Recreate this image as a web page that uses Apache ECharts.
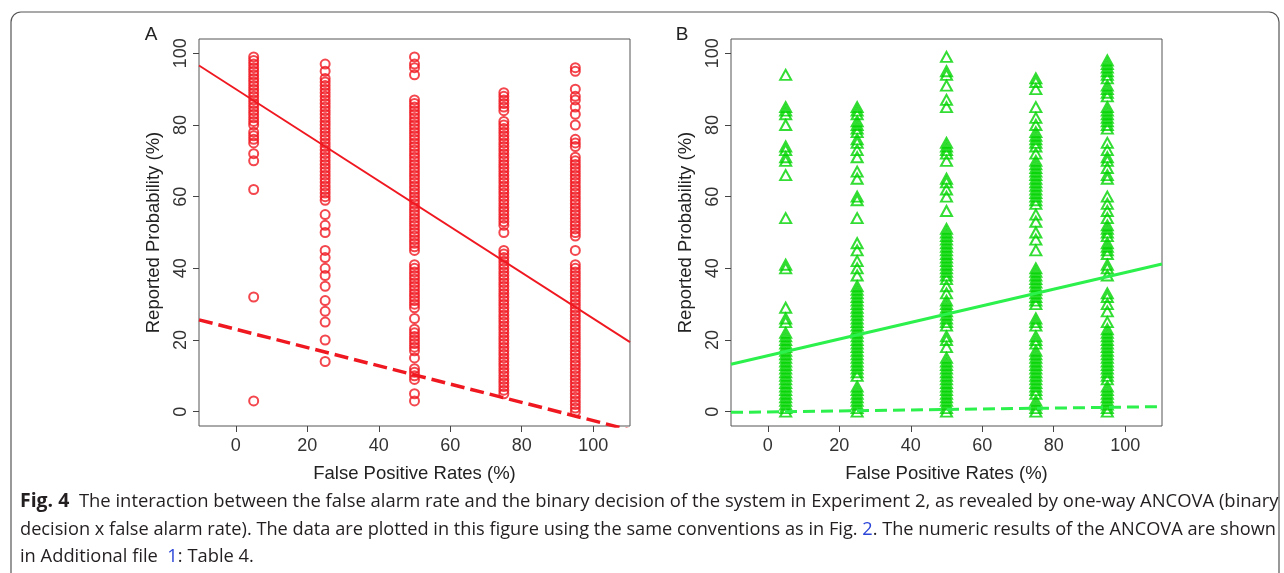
<!DOCTYPE html>
<html><head><meta charset="utf-8">
<script src="https://cdn.jsdelivr.net/npm/echarts@6/dist/echarts.min.js"></script>
<style>html,body{margin:0;padding:0;background:#fff}#c{width:1284px;height:573px}</style>
</head><body><div id="c"></div>
<script>
// ---------- data ----------
const rates = [5, 25, 50, 75, 95];
const xTicks = [0, 20, 40, 60, 80, 100];
const yTicks = [0, 20, 40, 60, 80, 100];

// Panel A (red circles)
const a5  = [99,98,97,96,95,94,93,92,91,90,89,88,87,86,85,84,83,82,81,80,78,77,76,75,72,70,62,32,3];
const a25 = [97,95,93,92,91,90,89,88,87,86,85,84,83,82,81,80,79,78,77,76,75,74,73,72,71,70,69,68,67,66,65,64,63,62,61,60,59,55,52,50,45,43,40,38,35,31,28,25,20,14];
const a50 = [99,97,96,94,87,86,85,84,83,82,81,80,79,78,77,76,75,74,73,72,71,70,69,68,67,66,65,64,63,62,61,60,59,58,57,56,55,54,53,52,51,50,49,48,47,46,45,41,40,39,38,37,36,35,34,33,32,31,30,29,26,23,22,21,20,19,18,17,15,12,11,10,9,5,3];
const a75 = [89,88,87,86,85,84,81,80,79,78,77,76,75,74,73,72,71,70,69,68,67,66,65,64,63,62,61,60,59,58,57,56,55,54,53,52,50,45,44,43,42,41,40,39,38,37,36,35,34,33,32,31,30,29,28,27,26,25,24,23,22,21,20,19,18,17,16,15,14,13,12,11,10,9,8,7,6,5];
const a95 = [96,95,90,88,87,85,83,80,76,75,74,71,70,69,68,67,66,65,64,63,62,61,60,59,58,57,56,55,54,53,52,51,50,49,45,41,40,39,38,37,36,35,34,33,32,31,30,29,28,27,26,25,24,23,22,21,20,19,18,17,16,15,14,13,12,11,10,9,8,7,6,5,4,3,2,1,0];

// Panel B (green triangles)
const b5  = [94,85,84,83,80,74,73,71,70,66,54,41,40,29,26,25,22,21,20,19,18,17,16,15,14,13,12,11,10,9,8,7,6,5,4,3,2,1,0];
const b25 = [85,84,83,81,80,79,78,76,75,73,71,67,65,60,59,54,47,45,42,40,38,35,34,33,32,31,30,29,28,27,26,25,24,23,22,21,20,19,18,17,16,15,14,13,12,11,10,7,6,5,4,3,2,1,0];
const b50 = [99,95,94,91,87,85,75,74,73,72,70,65,64,62,60,56,51,50,49,48,47,46,45,44,43,42,41,40,39,38,37,35,33,31,30,29,28,27,26,25,24,21,20,18,15,14,13,12,11,10,9,8,7,6,5,4,3,2,1,0];
const b75 = [93,92,90,85,82,80,78,77,76,75,74,72,70,69,68,67,66,65,64,63,62,61,60,59,58,55,53,50,48,45,40,39,38,37,36,35,34,33,32,31,30,26,25,24,21,20,19,17,16,15,14,13,12,11,10,9,8,7,6,5,3,2,1,0];
const b95 = [98,97,96,95,94,93,91,90,89,88,85,84,83,82,81,80,79,75,73,71,70,68,66,65,60,58,56,54,52,51,50,49,47,46,45,44,41,40,38,33,32,30,28,25,23,22,21,20,19,18,17,16,15,14,13,12,11,10,9,7,6,5,4,3,2,1,0];

// regression lines: [intercept, slope]
const fitASolid  = [90, -0.64];
const fitADashed = [23, -0.255];
const fitBSolid  = [15.6, 0.232];
const fitBDashed = [-0.06, 0.0133];

const xRange = [-10.3, 110.3];
const yRange = [-4, 104];

// ---------- build ----------
const panelA = [a5, a25, a50, a75, a95];
const panelB = [b5, b25, b50, b75, b95];
function pts(cols) {
  const out = [];
  cols.forEach((vals, i) => vals.forEach(v => out.push([rates[i], v])));
  return out;
}
function fitLine(f) { return xRange.map(x => [x, f[0] + f[1] * x]); }

const RED = '#f01820';
const GREEN_PT = '#00d400';
const GREEN_LN = '#2cf04c';
const AXF = '"Liberation Sans", Arial, sans-serif';

function xAx(gi) {
  return {
    type: 'value', gridIndex: gi, min: xRange[0], max: xRange[1],
    axisLine: { show: false, onZero: false }, splitLine: { show: false },
    axisTick: { show: true, inside: false, length: 6, customValues: xTicks, lineStyle: { color: '#444', width: 1 } },
    axisLabel: { customValues: xTicks, margin: 11, fontSize: 18, color: '#333', fontFamily: AXF },
    name: 'False Positive Rates (%)', nameLocation: 'middle', nameGap: 38,
    nameTextStyle: { fontSize: 18.5, color: '#222', fontFamily: AXF }
  };
}
function yAx(gi) {
  return {
    type: 'value', gridIndex: gi, min: yRange[0], max: yRange[1],
    axisLine: { show: false, onZero: false }, splitLine: { show: false },
    axisTick: { show: true, inside: false, length: 6, customValues: yTicks, lineStyle: { color: '#444', width: 1 } },
    axisLabel: { customValues: yTicks, rotate: 90, margin: 9, fontSize: 18, color: '#333', fontFamily: AXF },
    name: 'Reported Probability (%)', nameLocation: 'middle', nameGap: 36,
    nameTextStyle: { fontSize: 18.5, color: '#222', fontFamily: AXF }
  };
}

// caption measuring
const capFont = '"Open Sans", "Noto Sans", sans-serif';
const capSize = 18;
const cv = document.createElement('canvas').getContext('2d');
function w(t, bold) { cv.font = (bold ? 'bold ' : '') + capSize + 'px ' + capFont; return cv.measureText(t).width; }
const l1a = 'Fig. 4', l1b = '  The interaction between the false alarm rate and the binary decision of the system in Experiment 2, as revealed by one-way ANCOVA (binary';
const l2a = 'decision x false alarm rate). The data are plotted in this figure using the same conventions as in Fig. ', l2b = '2', l2c = '. The numeric results of the ANCOVA are shown';
const l3a = 'in Additional file  ', l3b = '1', l3c = ': Table 4.';
const s1 = 1256 / (w(l1a, true) + w(l1b));
const s2 = 1256 / (w(l2a) + w(l2b) + w(l2c));
const s3 = (s1 + s2) / 2;
const rich = {
  b: { fontWeight: 'bold', fontSize: capSize + 1, fontFamily: capFont, fill: '#231f20' },
  l: { fontSize: capSize, fontFamily: capFont, fill: '#2b45d8' }
};
function cap(text, y, s) {
  return { type: 'text', x: 20, y: y, scaleX: s, silent: true,
    style: { text: text, rich: rich, fontSize: capSize, fontFamily: capFont, fill: '#231f20', align: 'left', verticalAlign: 'middle' } };
}

const chart = echarts.init(document.getElementById('c'), null, { renderer: 'canvas' });
chart.setOption({
  animation: false,
  backgroundColor: '#fff',
  grid: [
    { left: 199, top: 39, width: 431, height: 387, show: true, borderColor: '#555', borderWidth: 1 },
    { left: 731, top: 39, width: 431, height: 387, show: true, borderColor: '#555', borderWidth: 1 }
  ],
  xAxis: [xAx(0), xAx(1)],
  yAxis: [yAx(0), yAx(1)],
  series: [
    { type: 'scatter', xAxisIndex: 0, yAxisIndex: 0, data: pts(panelA), symbol: 'circle', symbolSize: 9,
      itemStyle: { color: 'rgba(0,0,0,0)', borderColor: RED, borderWidth: 2 } },
    { type: 'line', xAxisIndex: 0, yAxisIndex: 0, data: fitLine(fitASolid), symbol: 'none', z: 5,
      lineStyle: { color: RED, width: 1.8 } },
    { type: 'line', xAxisIndex: 0, yAxisIndex: 0, data: fitLine(fitADashed), symbol: 'none', z: 5,
      lineStyle: { color: RED, width: 3.5, type: [14, 6] } },
    { type: 'scatter', xAxisIndex: 1, yAxisIndex: 1, data: pts(panelB), symbol: 'triangle', symbolSize: [11, 10],
      itemStyle: { color: 'rgba(0,0,0,0)', borderColor: GREEN_PT, borderWidth: 2 } },
    { type: 'line', xAxisIndex: 1, yAxisIndex: 1, data: fitLine(fitBSolid), symbol: 'none', z: 5,
      lineStyle: { color: GREEN_LN, width: 3 } },
    { type: 'line', xAxisIndex: 1, yAxisIndex: 1, data: fitLine(fitBDashed), symbol: 'none', z: 5,
      lineStyle: { color: GREEN_LN, width: 3, type: [12, 6] } }
  ],
  graphic: [
    { type: 'rect', shape: { x: 11, y: 12, width: 1268, height: 620, r: 10 }, silent: true,
      style: { fill: 'none', stroke: '#555', lineWidth: 1.2 } },
    { type: 'text', x: 151, y: 35, silent: true,
      style: { text: 'A', fontSize: 19, fontFamily: AXF, fill: '#222', align: 'center', verticalAlign: 'middle' } },
    { type: 'text', x: 682, y: 35, silent: true,
      style: { text: 'B', fontSize: 19, fontFamily: AXF, fill: '#222', align: 'center', verticalAlign: 'middle' } },
    cap('{b|' + l1a + '}' + l1b, 502, s1),
    cap(l2a + '{l|' + l2b + '}' + l2c, 530, s2),
    cap(l3a + '{l|' + l3b + '}' + l3c, 557, s3)
  ]
});
</script></body></html>
